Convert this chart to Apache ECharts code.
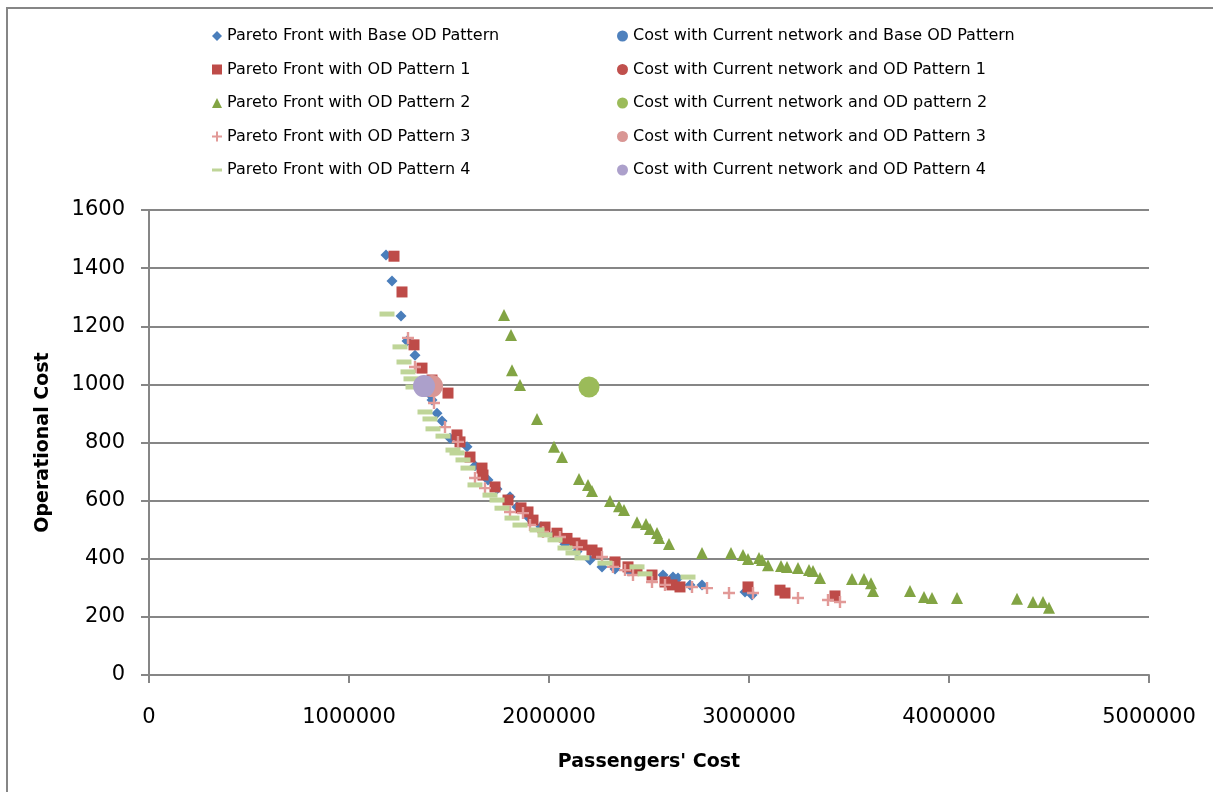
<!DOCTYPE html>
<html>
<head>
<meta charset="utf-8">
<script src="https://cdn.jsdelivr.net/npm/echarts@6/dist/echarts.min.js"></script>
<style>html,body{margin:0;padding:0;background:#fff}#c{width:1213px;height:792px}</style>
</head>
<body>
<div id="c"></div>
<script>
// ---- data ----
const xTicks = [0, 1000000, 2000000, 3000000, 4000000, 5000000];
const yTicks = [0, 200, 400, 600, 800, 1000, 1200, 1400, 1600];

const paretoBase = [[1185000,1445],[1215000,1356],[1260000,1235],[1290000,1149],[1330000,1100],[1375000,1010],[1405000,965],[1415000,946],[1440000,901],[1465000,874],[1505000,815],[1550000,800],[1590000,785],[1630000,720],[1695000,671],[1740000,640],[1805000,613],[1840000,578],[1900000,540],[1960000,510],[2020000,480],[2080000,450],[2140000,425],[2205000,396],[2265000,372],[2330000,365],[2400000,358],[2570000,344],[2620000,337],[2645000,334],[2705000,310],[2765000,310],[2980000,286],[3015000,275]];
const pareto1 = [[1225000,1441],[1265000,1318],[1325000,1136],[1365000,1056],[1415000,1015],[1495000,970],[1540000,826],[1555000,802],[1605000,750],[1665000,712],[1670000,688],[1730000,647],[1795000,602],[1860000,575],[1895000,561],[1920000,533],[1980000,509],[2040000,488],[2090000,470],[2130000,454],[2165000,447],[2215000,430],[2240000,420],[2330000,389],[2395000,372],[2440000,360],[2515000,344],[2580000,320],[2615000,310],[2655000,303],[2995000,303],[3155000,292],[3180000,282],[3430000,272]];
const pareto2 = [[1775000,1239],[1810000,1170],[1815000,1049],[1855000,998],[1940000,881],[2025000,785],[2065000,750],[2150000,674],[2195000,654],[2215000,633],[2305000,599],[2350000,581],[2375000,568],[2440000,526],[2485000,520],[2505000,502],[2540000,489],[2550000,471],[2600000,451],[2765000,420],[2910000,420],[2970000,413],[2995000,399],[3050000,403],[3065000,396],[3095000,378],[3160000,375],[3190000,372],[3245000,368],[3300000,361],[3320000,358],[3355000,334],[3515000,330],[3575000,330],[3610000,316],[3620000,289],[3805000,289],[3875000,268],[3915000,265],[4040000,265],[4340000,262],[4420000,251],[4470000,251],[4500000,231]];
const pareto3 = [[1295000,1160],[1330000,1060],[1425000,936],[1480000,853],[1545000,802],[1630000,678],[1680000,643],[1805000,561],[1870000,557],[1905000,516],[1970000,492],[2055000,475],[2140000,440],[2265000,406],[2320000,372],[2380000,361],[2420000,344],[2515000,320],[2580000,310],[2715000,303],[2790000,299],[2900000,282],[3020000,282],[3245000,265],[3395000,258],[3455000,251]];
const pareto4 = [[1190000,1242],[1255000,1129],[1275000,1077],[1295000,1043],[1310000,1019],[1320000,991],[1380000,905],[1405000,881],[1420000,847],[1470000,822],[1520000,774],[1540000,764],[1570000,740],[1595000,712],[1630000,654],[1705000,619],[1740000,602],[1765000,574],[1815000,540],[1855000,516],[1940000,499],[1980000,482],[2030000,465],[2080000,437],[2120000,420],[2165000,403],[2280000,385],[2440000,372],[2480000,348],[2695000,337]];

const currentBase = [[1400000,993]];
const current1 = [[1400000,993]];
const current2 = [[2200000,991]];
const current3 = [[1415000,994]];
const current4 = [[1375000,994]];

const names = {
  pB: 'Pareto Front with Base OD Pattern',
  p1: 'Pareto Front with OD Pattern 1',
  p2: 'Pareto Front with OD Pattern 2',
  p3: 'Pareto Front with OD Pattern 3',
  p4: 'Pareto Front with OD Pattern 4',
  cB: 'Cost with Current network and Base OD Pattern',
  c1: 'Cost with Current network and OD Pattern 1',
  c2: 'Cost with Current network and OD pattern 2',
  c3: 'Cost with Current network and OD Pattern 3',
  c4: 'Cost with Current network and OD Pattern 4'
};

// ---- chart ----
const FONT = '"DejaVu Sans", "Liberation Sans", sans-serif';
const PLUS = 'path://M4,0H6V4H10V6H6V10H4V6H0V4H4Z';
const DASH = 'path://M0,0H10V3H0Z';
const grey = '#868686';

function sc(name, data, symbol, size, color, z) {
  return { type: 'scatter', name, data, symbol, symbolSize: size, z: z,
    itemStyle: { color: color, opacity: 1 }, emphasis: { disabled: true }, animation: false };
}

const chart = echarts.init(document.getElementById('c'), null, { renderer: 'canvas' });
chart.setOption({
  backgroundColor: '#fff',
  animation: false,
  textStyle: { fontFamily: FONT },
  graphic: [{ type: 'rect', shape: { x: 7, y: 8, width: 1400, height: 1000 },
    style: { fill: 'none', stroke: grey, lineWidth: 2 }, silent: true }],
  legend: [
    { left: 207, top: 21, orient: 'vertical', itemWidth: 10, itemHeight: 10, itemGap: 13.5,
      textStyle: { fontFamily: FONT, fontSize: 16, color: '#000', lineHeight: 20 },
      data: [
        { name: names.pB, icon: 'diamond' },
        { name: names.p1, icon: 'rect' },
        { name: names.p2, icon: 'triangle' },
        { name: names.p3, icon: PLUS },
        { name: names.p4, icon: DASH }
      ], selectedMode: false },
    { left: 612, top: 21, orient: 'vertical', itemWidth: 11, itemHeight: 11, itemGap: 13.5,
      textStyle: { fontFamily: FONT, fontSize: 16, color: '#000', lineHeight: 20 },
      data: [
        { name: names.cB, icon: 'circle' },
        { name: names.c1, icon: 'circle' },
        { name: names.c2, icon: 'circle' },
        { name: names.c3, icon: 'circle' },
        { name: names.c4, icon: 'circle' }
      ], selectedMode: false }
  ],
  grid: { left: 149, right: 64, top: 210, bottom: 117, containLabel: false },
  xAxis: {
    type: 'value', min: xTicks[0], max: xTicks[xTicks.length - 1], interval: xTicks[1] - xTicks[0],
    name: "Passengers' Cost", nameLocation: 'middle', nameGap: 78,
    nameTextStyle: { fontFamily: FONT, fontSize: 19, fontWeight: 'bold', color: '#000' },
    axisLine: { show: true, lineStyle: { color: grey, width: 2 } },
    axisTick: { show: true, length: 8, lineStyle: { color: grey, width: 2 } },
    axisLabel: { fontFamily: FONT, fontSize: 21, color: '#000', margin: 32, formatter: v => String(v) },
    splitLine: { show: false }
  },
  yAxis: {
    type: 'value', min: yTicks[0], max: yTicks[yTicks.length - 1], interval: yTicks[1] - yTicks[0],
    name: 'Operational Cost', nameLocation: 'middle', nameGap: 96, nameRotate: 90,
    nameTextStyle: { fontFamily: FONT, fontSize: 19, fontWeight: 'bold', color: '#000' },
    axisLine: { show: true, lineStyle: { color: grey, width: 2 } },
    axisTick: { show: true, length: 8, lineStyle: { color: grey, width: 2 } },
    axisLabel: { fontFamily: FONT, fontSize: 21, color: '#000', margin: 24, formatter: v => String(v) },
    splitLine: { show: true, lineStyle: { color: grey, width: 2 } }
  },
  series: [
    sc(names.pB, paretoBase, 'diamond', 11, '#4A7EBB', 2),
    sc(names.cB, currentBase, 'circle', 20, '#4F81BD', 3),
    sc(names.p1, pareto1, 'rect', 11, '#BE4B48', 4),
    sc(names.c1, current1, 'circle', 20, '#C0504D', 5),
    sc(names.p2, pareto2, 'triangle', 12, '#82A444', 6),
    sc(names.c2, current2, 'circle', 21, '#9BBB59', 7),
    sc(names.p3, pareto3, PLUS, 12, '#E29A98', 8),
    sc(names.c3, current3, 'circle', 22, '#D99694', 9),
    sc(names.p4, pareto4, 'rect', [15, 5], '#BFD598', 10),
    sc(names.c4, current4, 'circle', 22, '#ACA0CB', 11)
  ]
});
</script>
</body>
</html>
